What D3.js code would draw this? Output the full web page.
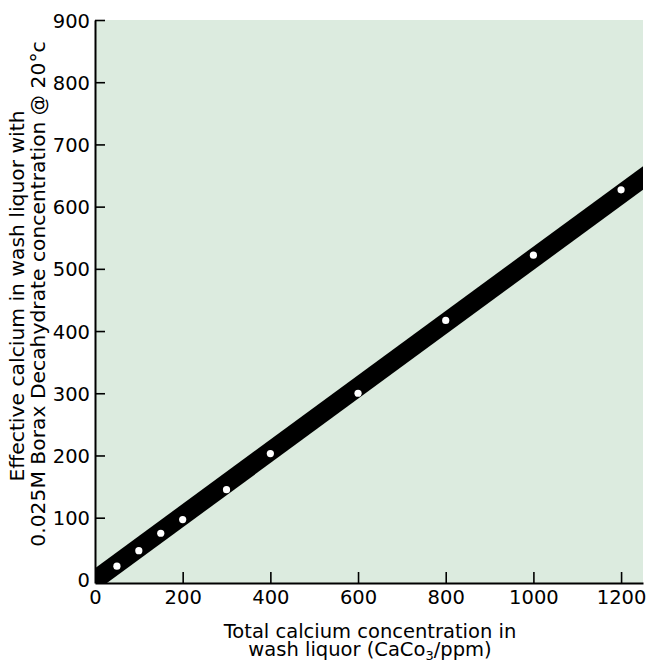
<!DOCTYPE html>
<html><head><meta charset="utf-8">
<script src="https://cdn.jsdelivr.net/npm/d3@7"></script>
<style>body{margin:0;background:#fff}text{font-family:"DejaVu Sans",sans-serif;fill:#000}</style>
</head><body>
<svg id="c" width="646" height="662"></svg>
<script>
const totalCalcium = [50,100,150,200,300,400,600,800,1000,1200];
const effectiveCalcium = [22,47,75,97,145,203,300,417,522,627];
const fitLine = [[-50,-26],[1300,672]];
const xTicks = [0,200,400,600,800,1000,1200];
const yTicks = [0,100,200,300,400,500,600,700,800,900];

const svg = d3.select("#c");
const L=95,R=643,T=20,B=583;
const x = d3.scaleLinear().domain([0,1250]).range([L,R]);
const y = d3.scaleLinear().domain([-5,900]).range([B,T]);

svg.append("rect").attr("x",L).attr("y",T).attr("width",R-L).attr("height",B-T).attr("fill","#dcebdf");
svg.append("clipPath").attr("id","clip").append("rect").attr("x",L).attr("y",T).attr("width",R-L).attr("height",B-T);

const g = svg.append("g").attr("clip-path","url(#clip)");
g.append("path").datum(fitLine)
 .attr("d", d3.line().x(d=>x(d[0])).y(d=>y(d[1])))
 .attr("stroke","#000").attr("stroke-width",19).attr("fill","none");
g.selectAll("circle").data(totalCalcium).join("circle")
 .attr("cx",(d)=>x(d)).attr("cy",(d,i)=>y(effectiveCalcium[i])).attr("r",3.6).attr("fill","#fff");

const fmt = d3.format("d");
const xa = svg.append("g").attr("transform",`translate(0,${B})`)
 .call(d3.axisBottom(x).tickValues(xTicks).tickFormat(fmt).tickSizeInner(-11).tickSizeOuter(0));
const ya = svg.append("g").attr("transform",`translate(${L},0)`)
 .call(d3.axisLeft(y).tickValues(yTicks).tickFormat(fmt).tickSizeInner(-10).tickSizeOuter(0));
[xa,ya].forEach(a=>{
  a.selectAll("path").attr("stroke","#000").attr("stroke-width",2);
  a.selectAll("line").attr("stroke","#000").attr("stroke-width",1.6);
  a.selectAll("text").attr("font-size",19.5).attr("font-family","DejaVu Sans");
});
xa.selectAll(".tick text").attr("y",6).attr("dy","0.75em");
xa.selectAll(".tick").filter(d=>d===0).select("line").remove();
ya.selectAll(".tick").filter(d=>d===0).select("line").remove();
ya.selectAll(".tick text").attr("x",-5).attr("dy","0.36em");

const xt = svg.append("text").attr("text-anchor","middle").attr("font-size",19.5).attr("x",370).attr("y",638)
 .text("Total calcium concentration in");
const t2 = svg.append("text").attr("text-anchor","middle").attr("font-size",19.5).attr("x",370).attr("y",656);
t2.append("tspan").text("wash liquor (CaCo");
t2.append("tspan").attr("font-size",13).attr("dy",4).text("3");
t2.append("tspan").attr("dy",-4).text("/ppm)");

const yt = svg.append("text").attr("text-anchor","middle").attr("font-size",20.3)
 .attr("transform","translate(0,294) rotate(-90)");
yt.append("tspan").attr("x",-2).attr("y",24).text("Effective calcium in wash liquor with");
yt.append("tspan").attr("x",0).attr("y",45).text("0.025M Borax Decahydrate concentration @ 20°c");
</script>
</body></html>
